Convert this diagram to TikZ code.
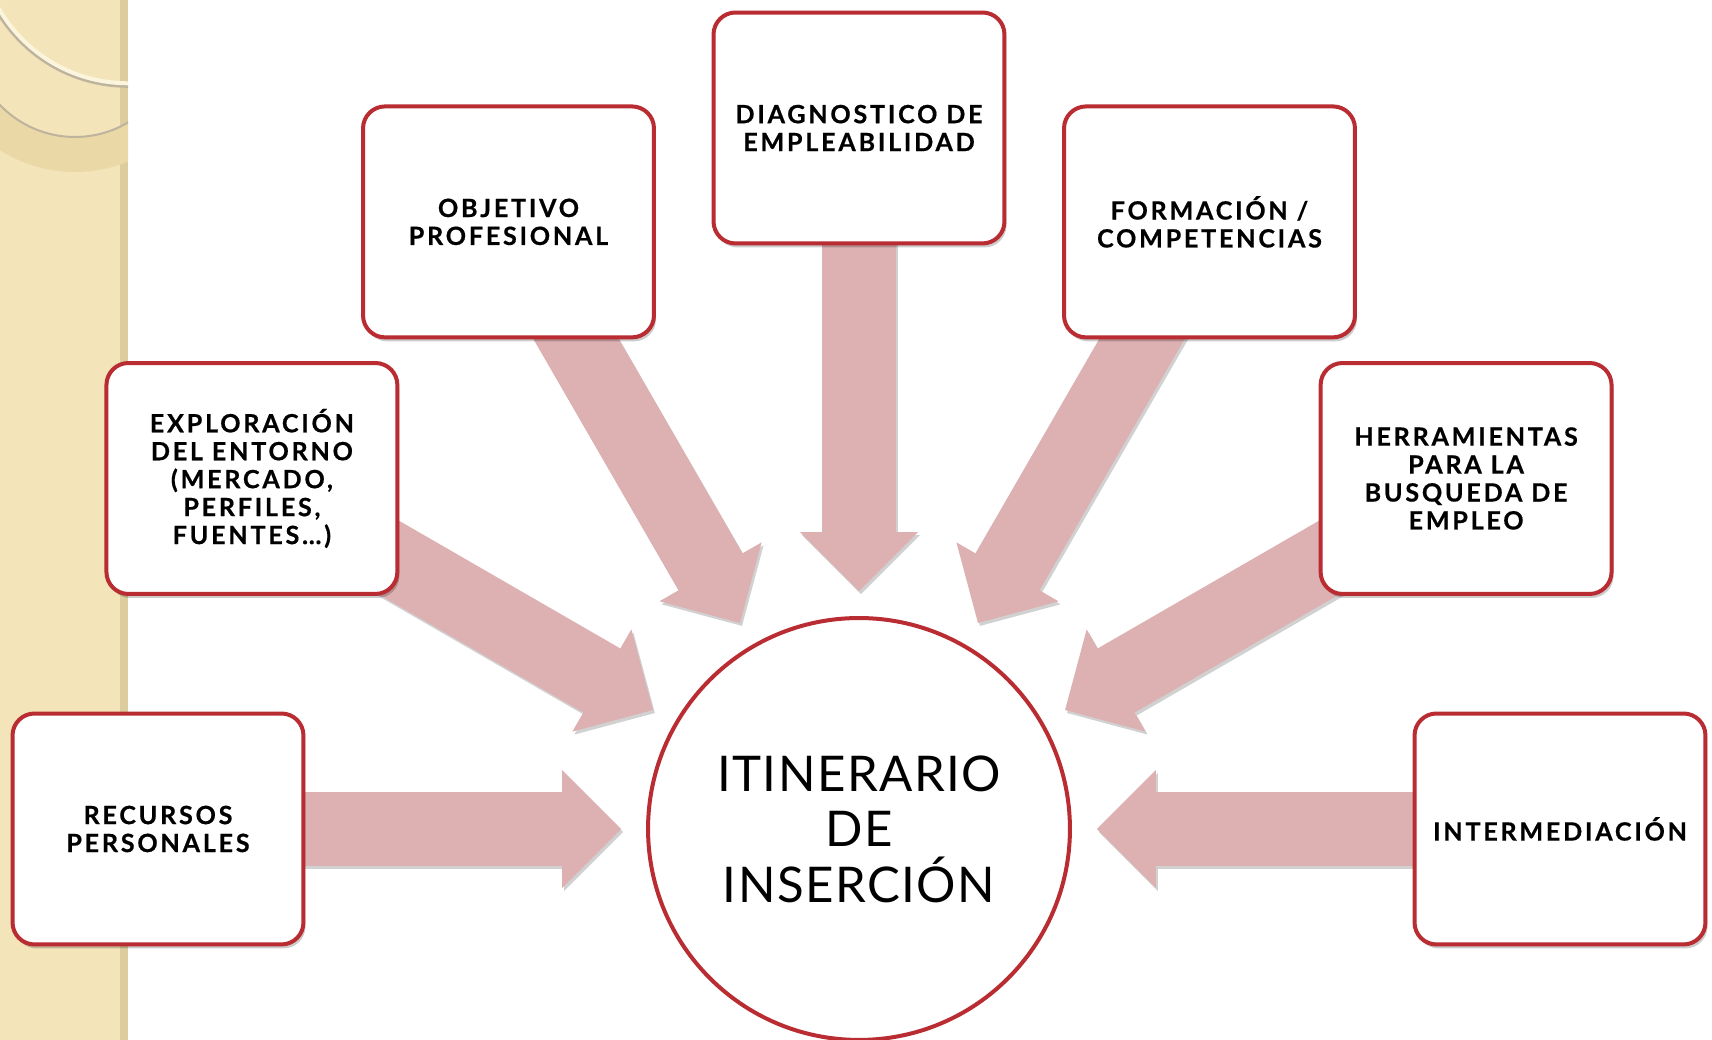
\documentclass[tikz,border=0pt]{standalone}
\usepackage{fontspec}
\setmainfont{Lato}
\newfontfamily\stepfont{Lato}[LetterSpace=11, BoldFeatures={FakeBold=0.6}]
\newfontfamily\hubfont{Lato}[LetterSpace=3]
\usetikzlibrary{calc,arrows.meta,shadows}

\definecolor{boxred}{RGB}{184,44,50}
\definecolor{arrowpink}{RGB}{221,176,177}
\definecolor{stripbeige}{RGB}{243,228,186}
\definecolor{stripedge}{RGB}{220,204,158}
\definecolor{bandbeige}{RGB}{234,216,166}
\definecolor{arccream}{RGB}{252,245,222}
\definecolor{arcshade}{RGB}{190,180,158}

\pgfdeclarelayer{bg}
\pgfsetlayers{bg,main}

\tikzset{
  stepbox/.style={draw=boxred, line width=0.08cm, fill=white, rounded corners=0.44cm,
    minimum width=5.82cm, minimum height=4.62cm, align=center,
    font=\stepfont\fontsize{14.3}{15.9}\selectfont\bfseries,
    drop shadow={shadow xshift=0.04cm, shadow yshift=-0.08cm, fill=black, opacity=0.2}},
  hubcircle/.style={circle, draw=boxred, line width=0.08cm, fill=white, minimum size=8.44cm,
    align=center, font=\hubfont\fontsize{28}{31.6}\selectfont},
  pointer/.style={draw=arrowpink, line width=1.48cm,
    -{Triangle[length=1.18cm,width=2.36cm,line width=0pt]}},
}

\begin{document}
\begin{tikzpicture}[x=0.02cm,y=0.02cm]
  \useasboundingbox (0,0) rectangle (1712,1040);

  % side strip
  \fill[stripbeige] (0,0) rectangle (128,1040);
  \fill[stripedge] (120,0) rectangle (128,1040);
  \begin{scope}
    \clip (0,0) rectangle (128,1040);
    \fill[bandbeige, even odd rule] (75,1007) circle (139) (75,1007) circle (104);
    \draw[arcshade, line width=0.04cm] (75,1007) circle (104);
    \draw[arcshade, line width=0.06cm] (128,1105.7) circle (152);
    \draw[arccream, line width=0.08cm] (128,1105.7) circle (149);
  \end{scope}

  % centre and steps
  \node[hubcircle] (hub) at (859,211) {ITINERARIO\\DE\\INSERCIÓN};
  \node[stepbox] (recursos) at ($(hub)+(180:701)$) {RECURSOS\\PERSONALES};
  \node[stepbox] (exploracion) at ($(hub)+(150:701)$) {EXPLORACIÓN\\DEL ENTORNO\\(MERCADO,\\PERFILES,\\FUENTES…)};
  \node[stepbox] (objetivo) at ($(hub)+(120:701)$) {OBJETIVO\\PROFESIONAL};
  \node[stepbox] (diagnostico) at ($(hub)+(90:701)$) {DIAGNOSTICO DE\\EMPLEABILIDAD};
  \node[stepbox] (formacion) at ($(hub)+(60:701)$) {FORMACIÓN /\\COMPETENCIAS};
  \node[stepbox] (herramientas) at ($(hub)+(30:701)$) {HERRAMIENTAS\\PARA LA\\BUSQUEDA DE\\EMPLEO};
  \node[stepbox] (intermediacion) at ($(hub)+(0:701)$) {INTERMEDIACIÓN};

  % block arrows
  \begin{pgfonlayer}{bg}
    \foreach \b in {recursos,exploracion,objetivo,diagnostico,formacion,herramientas,intermediacion} {
      \draw[pointer, draw=black!18, transform canvas={shift={(0.04cm,-0.06cm)}}] (\b.center) -- ($(hub)!4.76cm!(\b)$);
      \draw[pointer] (\b.center) -- ($(hub)!4.76cm!(\b)$);
    }
  \end{pgfonlayer}
\end{tikzpicture}
\end{document}
